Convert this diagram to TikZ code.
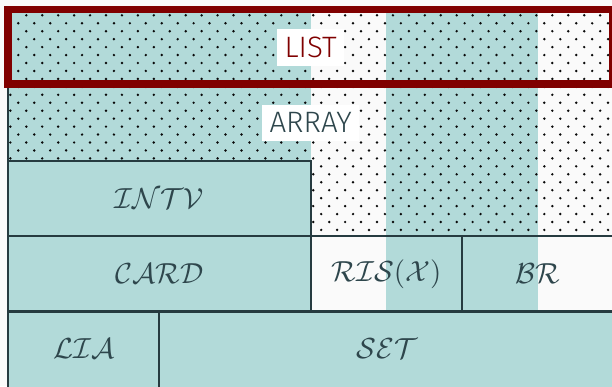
\documentclass[tikz,border=0pt]{standalone}
\usepackage{graphicx}
\usepackage{fontspec}
\setmainfont{Fira Sans}[UprightFont=* Light]
\definecolor{bgc}{HTML}{FAFAFA}
\definecolor{tealc}{HTML}{B2DAD9}
\definecolor{linec}{HTML}{263B40}
\definecolor{redc}{HTML}{800000}
\definecolor{txtc}{HTML}{2E464C}
\definecolor{dotc}{HTML}{0A0A0A}
\newcommand{\calbig}[1]{\scalebox{2.9}{$#1$}}
\tikzset{
  setbox/.style={draw=linec, line width=2.4pt},
  tealbox/.style={setbox, fill=tealc},
  callabel/.style={text=txtc, inner sep=0pt},
  sanslabel/.style={fill=white, inner sep=0pt, font=\fontsize{29.5}{34}\selectfont},
}
\begin{document}
\begin{tikzpicture}[x=1pt,y=-1pt]
\useasboundingbox (0,0) rectangle (612,386);
\clip (0,0) rectangle (612,386);
\fill[bgc] (0,0) rectangle (612,386);
% teal stripes
\fill[tealc] (8,9.6) rectangle (311,311.5);
\fill[tealc] (386,9.6) rectangle (538,311.5);
% dots
\begin{scope}
\clip (8,9.6) rectangle (614,236);
\foreach \k in {0,...,28}{
  \pgfmathsetmacro{\yy}{15.3+7.95*\k}
  \pgfmathsetmacro{\xo}{isodd(\k) ? 2.36 : 10.36}
  \foreach \j in {0,...,38}{
    \fill[dotc] ({\xo+15.94*\j},\yy) circle[radius=1.35pt];
  }
}
\end{scope}
% boxes
\draw[setbox] (8,84) rectangle (616,236);
\draw[tealbox] (8,161) rectangle (311,236);
\draw[tealbox] (8,236) rectangle (311,311.5);
\draw[setbox] (311,236) rectangle (462,311.5);
\draw[setbox] (462,236) rectangle (616,311.5);
\draw[tealbox] (8,311.5) rectangle (159,390);
\draw[tealbox] (159,311.5) rectangle (616,390);
% list frame
\draw[redc, line width=7.5pt] (8.2,9.6) rectangle (612.5,84.2);
% labels
\node[sanslabel, text=redc, minimum width=67.5pt, minimum height=36.4pt] (list) at (310.7,47.5) {LIST};
\node[sanslabel, text=txtc, minimum width=97.3pt, minimum height=35.7pt] (array) at (310.7,122.8) {ARRAY};
\node[callabel] (intv) at (159.5,198.5) {\calbig{\mathcal{INTV}}};
\node[callabel] (card) at (159.5,273.8) {\calbig{\mathcal{CARD}}};
\node[callabel] (ris) at (386.5,273.8) {\calbig{\mathcal{RIS}(\mathcal{X})}};
\node[callabel] (br) at (537.5,273.8) {\calbig{\mathcal{BR}}};
\node[callabel] (lia) at (84,349) {\calbig{\mathcal{LIA}}};
\node[callabel] (set) at (387,349) {\calbig{\mathcal{SET}}};
\end{tikzpicture}
\end{document}
